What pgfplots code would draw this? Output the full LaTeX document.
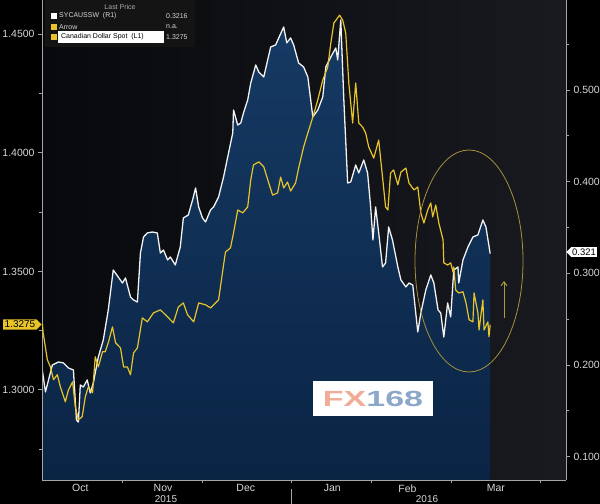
\documentclass[border=0pt]{standalone}
\usepackage{pgfplots}
\usepackage{pgfplotstable}
\pgfplotsset{compat=1.18}
\usepackage{fontspec}
\setmainfont{Liberation Sans}
\usetikzlibrary{shapes.symbols,arrows.meta}

\definecolor{bbyellow}{RGB}{232,196,42}
\definecolor{bbwhite}{RGB}{242,242,242}
\definecolor{bbaxis}{RGB}{165,165,165}
\definecolor{bbtext}{RGB}{215,215,215}
\definecolor{fillTop}{RGB}{22,58,100}
\definecolor{fillBot}{RGB}{10,36,68}
\definecolor{bgL}{RGB}{8,9,12}
\definecolor{bgR}{RGB}{24,26,32}
\definecolor{ringcol}{RGB}{165,145,62}
\definecolor{fxred}{RGB}{240,172,150}
\definecolor{fxblue}{RGB}{140,168,200}

% x = trading day index from 1 Oct 2015
% SYCAUSSW (right axis)
\pgfplotstableread{
x y
0.0 0.1968
0.9 0.1707
2.7 0.2001
4.3 0.2034
5.6 0.2023
6.9 0.1968
8.2 0.1947
9.0 0.1401
9.5 0.1379
10.0 0.1783
10.8 0.1761
11.8 0.1838
12.6 0.1696
13.4 0.1805
14.7 0.2088
16.0 0.2274
17.3 0.2601
18.6 0.3037
19.9 0.2961
21.0 0.2895
21.8 0.2950
23.1 0.2743
23.9 0.2710
24.9 0.2688
25.7 0.3222
26.5 0.3397
27.5 0.3441
28.8 0.3451
30.1 0.3441
30.9 0.3222
31.7 0.3255
32.8 0.3146
33.5 0.3179
34.8 0.3092
36.1 0.3288
36.9 0.3604
38.2 0.3637
39.3 0.3800
40.1 0.3931
40.9 0.3724
41.9 0.3604
42.7 0.3561
44.0 0.3691
44.8 0.3724
46.1 0.3833
47.4 0.4051
48.7 0.4313
49.8 0.4531
50.0 0.4782
51.1 0.4618
51.9 0.4640
52.6 0.4749
53.7 0.4891
54.5 0.5076
55.8 0.5273
56.6 0.5196
57.9 0.5142
59.7 0.5469
61.0 0.5491
61.8 0.5567
63.1 0.5687
63.9 0.5513
64.9 0.5567
65.7 0.5491
67.0 0.5294
68.3 0.5251
69.4 0.5142
70.7 0.4706
72.0 0.4782
73.3 0.4924
74.1 0.5251
75.4 0.5360
76.7 0.5458
77.2 0.5327
78.0 0.5763
78.8 0.4891
79.8 0.3986
80.6 0.3997
81.9 0.4182
82.7 0.4095
84.0 0.4237
85.0 0.4095
85.8 0.3724
86.4 0.3364
87.1 0.3724
87.9 0.3441
88.9 0.3070
89.7 0.3113
90.5 0.3506
91.5 0.3364
92.9 0.3070
93.7 0.2928
95.0 0.2852
95.8 0.2895
96.8 0.2873
98.1 0.2361
98.9 0.2568
100.2 0.2819
101.5 0.2983
102.3 0.2895
103.4 0.2601
104.1 0.2568
104.9 0.2306
105.9 0.2677
106.7 0.2525
107.5 0.3037
108.6 0.3070
108.8 0.2895
109.9 0.3146
111.2 0.3288
112.5 0.3397
113.8 0.3419
115.1 0.3582
115.9 0.3506
117.0 0.3216
}\swapdata

% Canadian Dollar Spot (left axis)
\pgfplotstableread{
x y
0.1 1.3278
0.3 1.3241
1.4 1.3127
2.2 1.3097
3.0 1.3043
4.0 1.3064
4.8 1.3013
6.1 1.2950
6.9 1.3000
8.0 1.3034
8.7 1.2929
9.5 1.2874
10.5 1.2887
11.3 1.2971
12.1 1.3013
13.2 1.2988
13.9 1.3140
14.7 1.3097
15.8 1.3161
16.5 1.3161
17.3 1.3199
18.4 1.3266
19.2 1.3199
20.5 1.3177
21.3 1.3097
22.3 1.3097
23.1 1.3064
23.9 1.3156
24.9 1.3177
26.2 1.3304
27.5 1.3287
29.1 1.3325
30.9 1.3338
32.8 1.3308
34.3 1.3283
35.6 1.3350
36.9 1.3367
38.0 1.3317
39.6 1.3287
40.9 1.3367
42.7 1.3359
44.0 1.3346
44.8 1.3359
46.1 1.3380
47.1 1.3494
47.9 1.3582
49.2 1.3599
50.0 1.3662
51.1 1.3759
52.4 1.3747
53.7 1.3772
54.5 1.3886
55.2 1.3949
56.6 1.3962
57.9 1.3941
59.2 1.3873
60.2 1.3822
61.5 1.3831
62.3 1.3898
63.1 1.3852
64.1 1.3877
64.9 1.3839
66.2 1.3873
67.0 1.3936
68.3 1.4025
69.4 1.4084
70.7 1.4151
72.0 1.4223
73.3 1.4307
74.6 1.4362
75.4 1.4463
76.2 1.4548
77.7 1.4581
78.5 1.4560
79.3 1.4505
80.1 1.4295
81.1 1.4126
81.9 1.4295
82.7 1.4126
83.7 1.4109
84.5 1.4084
85.3 1.4025
86.6 1.3978
87.9 1.4054
88.9 1.3898
89.7 1.3772
90.3 1.3759
91.0 1.3915
91.8 1.3928
92.9 1.3865
93.7 1.3919
95.0 1.3936
95.8 1.3873
97.1 1.3844
98.1 1.3856
98.9 1.3747
99.7 1.3704
100.7 1.3759
101.5 1.3789
102.0 1.3730
102.8 1.3780
103.6 1.3704
104.7 1.3633
104.9 1.3536
105.9 1.3527
106.7 1.3536
107.3 1.3498
107.5 1.3519
108.0 1.3422
108.8 1.3409
109.9 1.3414
110.7 1.3367
111.5 1.3296
112.5 1.3287
112.8 1.3409
113.8 1.3325
114.1 1.3253
115.1 1.3380
115.4 1.3253
116.4 1.3287
116.7 1.3224
117.0 1.3275
}\cadspot

\pgfplotsset{bb/.style={
  scale only axis, width=524bp, height=480bp,
  at={(42bp,24bp)}, anchor=south west,
  xmin=0, xmax=136.8,
  axis line style={bbaxis, line width=0.8pt},
  tick style={bbaxis, line width=0.9pt},
  major tick length=4bp, minor tick length=3bp, tick align=outside,
  ticklabel style={font=\fontsize{10.5}{12}\selectfont, text=bbtext},
  /pgf/number format/assume math mode=true,
}}

\begin{document}
\begin{tikzpicture}
\path[use as bounding box] (0,0) rectangle (600bp,504bp);
\clip (0,0) rectangle (600bp,504bp);
\fill[black] (0,0) rectangle (600bp,504bp);
\shade[left color=bgL, right color=bgR] (42bp,24bp) rectangle (566bp,504bp);

% right axis: swap spread with filled area
\begin{axis}[bb,
  ymin=0.0747, ymax=0.5981,
  axis y line*=right, axis x line=none,
  ytick={0.1,0.2,0.3,0.4,0.5},
  minor ytick={0.15,0.25,0.35,0.45,0.55},
  yticklabel style={/pgf/number format/fixed, /pgf/number format/fixed zerofill, /pgf/number format/precision=3},
]
\addplot[draw=none, top color=fillTop, bottom color=fillBot] table[x=x, y=y] {\swapdata} \closedcycle;
\addplot[bbwhite, line width=1.3pt, line join=round] table[x=x, y=y] {\swapdata};
\end{axis}

% left axis: USDCAD
\begin{axis}[bb,
  ymin=1.2620, ymax=1.4645,
  axis y line*=left, axis x line*=bottom,
  ytick={1.30,1.35,1.40,1.45},
  minor ytick={1.275,1.325,1.375,1.425},
  yticklabel style={/pgf/number format/fixed, /pgf/number format/fixed zerofill, /pgf/number format/precision=4},
  xtick={10,31.6,53.2,75.8,95.4,118.5},
  xticklabels={Oct,Nov,Dec,Jan,Feb,Mar},
  minor xtick={20.9,42,65,85.9,107,130},
  major x tick style={draw=none},
  xticklabel style={yshift=3bp},
]
\addplot[bbyellow, line width=1.2pt, line join=round] table[x=x, y=y] {\cadspot};
\end{axis}

% year labels and separator
\draw[bbaxis, line width=0.8pt] (291bp,0) -- (291bp,15bp);
\node[font=\fontsize{10}{12}\selectfont, text=bbtext] at (166bp,4.5bp) {2015};
\node[font=\fontsize{10}{12}\selectfont, text=bbtext] at (427bp,4.5bp) {2016};

% legend
\fill[black!92!white] (45bp,457bp) rectangle (195bp,504bp);
\begin{scope}[font=\fontsize{7}{8}\selectfont]
\node[text=bbtext!80!black] at (120bp,497bp) {Last Price};
\fill[white] (50.5bp,485bp) rectangle (56.5bp,491bp);
\node[anchor=west, text=bbtext, inner sep=0] at (59bp,488bp) {SYCAUSSW\ \ (R1)};
\node[anchor=west, text=bbtext, inner sep=0] at (166bp,488bp) {0.3216};
\fill[bbyellow] (50.5bp,474bp) rectangle (56.5bp,480bp);
\node[anchor=west, text=bbtext, inner sep=0] at (59bp,477bp) {Arrow};
\node[anchor=west, text=bbtext, inner sep=0] at (166bp,477bp) {n.a.};
\fill[bbyellow] (50.5bp,464bp) rectangle (56.5bp,470bp);
\filldraw[draw=white, fill=white] (58.5bp,461.5bp) rectangle (163bp,472.5bp);
\node[anchor=west, text=black, inner sep=0] at (61bp,467bp) {Canadian Dollar Spot\ \ (L1)};
\node[anchor=west, text=bbtext, inner sep=0] at (166bp,467bp) {1.3275};
\end{scope}

% FX168 logo
\node[fill=white, minimum width=120bp, minimum height=35bp, inner sep=0] at (373bp,105.5bp)
  {\scalebox{1.55}[1]{\fontsize{22}{22}\selectfont\bfseries\textcolor{fxred}{FX}\textcolor{fxblue}{168}}};

% annotation ring and arrow
\draw[ringcol, line width=0.8pt] (469bp,243bp) ellipse [x radius=54bp, y radius=111bp];
\draw[ringcol!90!yellow, line width=1pt, -{Straight Barb[length=4bp,width=6bp]}] (504bp,186bp) -- (504bp,223bp);

% last value tags
\node[signal, signal to=east, fill=bbyellow, text=black, inner sep=1.5pt, anchor=east,
  font=\fontsize{10}{12}\selectfont] at (42bp,179.5bp) {1.3275};
\node[signal, signal to=west, fill=white, text=black, inner xsep=1pt, inner ysep=1.5pt, anchor=west,
  font=\fontsize{9.5}{12}\selectfont] at (566bp,252bp) {0.321};
\end{tikzpicture}
\end{document}
